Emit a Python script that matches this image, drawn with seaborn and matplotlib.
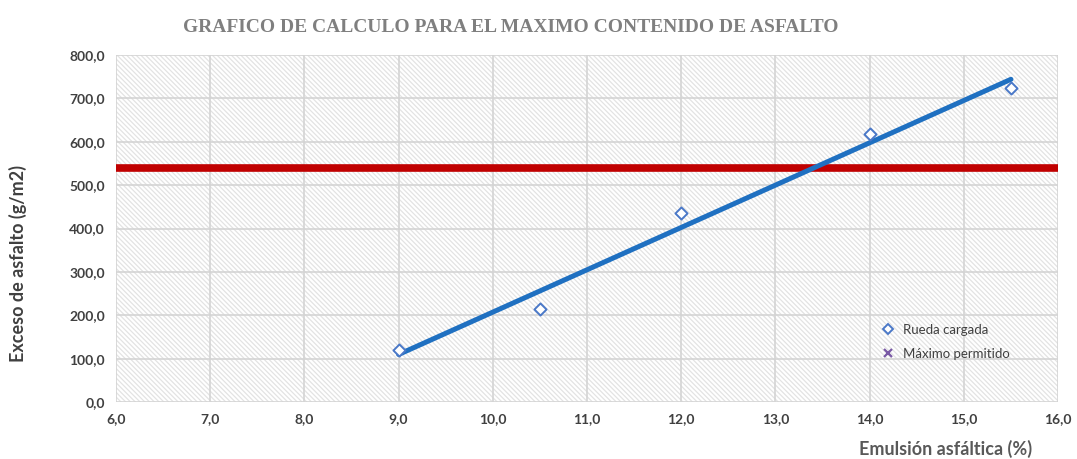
import numpy as np
import pandas as pd
import seaborn as sns
import matplotlib
matplotlib.use("Agg")
import matplotlib.pyplot as plt
from matplotlib.patches import Rectangle
from matplotlib.lines import Line2D
from matplotlib.ticker import FuncFormatter, MultipleLocator
import matplotlib.patheffects as pe

# Data
emulsion = [9.0, 10.5, 12.0, 14.0, 15.5]          # Emulsión asfáltica (%)
exceso = [120.0, 214.0, 435.0, 617.0, 724.0]       # Exceso de asfalto (g/m2)
maximo_permitido = 539.0                           # Máximo permitido (g/m2)

title = "GRAFICO DE CALCULO PARA EL MAXIMO CONTENIDO DE ASFALTO"
xlabel = "Emulsión asfáltica (%)"
ylabel = "Exceso de asfalto (g/m2)"
legend_labels = ["Rueda cargada", "Máximo permitido"]

df = pd.DataFrame({"x": emulsion, "y": exceso})

sns.set_theme(style="white")
plt.rcParams["font.family"] = ["Lato", "DejaVu Sans"]
plt.rcParams["hatch.linewidth"] = 0.9

fig = plt.figure(figsize=(10.77, 4.59), dpi=100)
ax = fig.add_axes([0.1077, 0.1242, 0.8747, 0.7558])

ax.set_xlim(6.0, 16.0)
ax.set_ylim(0.0, 800.0)

# hatched plot background
ax.add_patch(Rectangle((0, 0), 1, 1, transform=ax.transAxes, facecolor="white",
                       edgecolor="#e3e3e3", hatch="\\" * 7, linewidth=0, zorder=0))

ax.xaxis.set_major_locator(MultipleLocator(1.0))
ax.yaxis.set_major_locator(MultipleLocator(100.0))
ax.grid(True, color="#d4d4d4", linewidth=1.2, zorder=1)
ax.set_axisbelow(True)
for s in ax.spines.values():
    s.set_visible(False)

fmt = lambda v, p: f"{v:.1f}".replace(".", ",")
ax.xaxis.set_major_formatter(FuncFormatter(fmt))
ax.yaxis.set_major_formatter(FuncFormatter(fmt))
ax.tick_params(axis="both", labelsize=10, colors="#404040", length=0, pad=8)
for lab in ax.get_xticklabels() + ax.get_yticklabels():
    lab.set_fontweight("bold")

# maximum permitted level
ax.axhline(maximo_permitido, color="#c00000", linewidth=5.5, zorder=3)

# linear trend line
slope, intercept = np.polyfit(emulsion, exceso, 1)
xt = np.array([min(emulsion), max(emulsion)])
sns.lineplot(x=xt, y=slope * xt + intercept, ax=ax, color="#1f70c1", linewidth=3.6,
             zorder=4, legend=False,
             path_effects=[pe.SimplePatchShadow(offset=(1.5, -1.5), shadow_rgbFace="#000000", alpha=0.35),
                           pe.Normal()])

# measured points
sns.scatterplot(data=df, x="x", y="y", ax=ax, marker="D", s=38, facecolor="white",
                edgecolor="#4a78c8", linewidth=1.4, zorder=5, legend=False)

ax.set_xlabel("")
ax.set_ylabel("")

handles = [
    Line2D([], [], linestyle="none", marker="D", markersize=5, markerfacecolor="white",
           markeredgecolor="#4a78c8", markeredgewidth=1.4),
    Line2D([], [], linestyle="none", marker="x", markersize=6, color="#7a5aa6",
           markeredgewidth=1.6),
]
ax.legend(handles, legend_labels, loc="upper left", bbox_to_anchor=(0.8, 0.24),
          frameon=False, fontsize=9.5, handletextpad=0.1, labelspacing=0.9,
          labelcolor="#404040", borderaxespad=0)

fig.text(0.474, 0.94, title, ha="center", va="center", fontsize=14, fontweight="bold",
         color="#7f7f7f", family=["Liberation Serif", "DejaVu Serif"])
fig.text(0.017, 0.425, ylabel, rotation=90, ha="center", va="center", fontsize=13,
         fontweight="bold", color="#404040")
fig.text(0.958, 0.002, xlabel, ha="right", va="bottom", fontsize=13,
         fontweight="bold", color="#595959")

fig.savefig("out.png", dpi=100)
